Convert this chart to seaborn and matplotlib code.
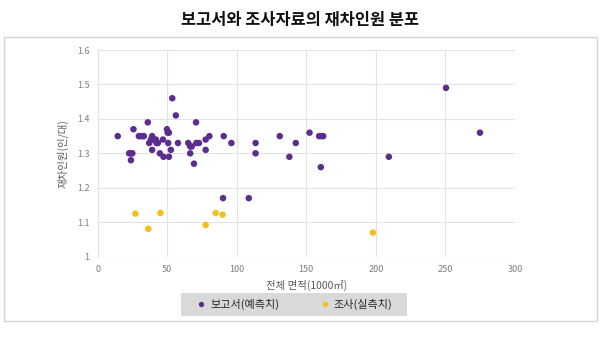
import matplotlib
matplotlib.use("Agg")
import matplotlib.pyplot as plt
from matplotlib.patches import Rectangle
from matplotlib.lines import Line2D
import seaborn as sns
import pandas as pd

# Reported (predicted) values: total area (1000 m²) vs. occupancy (persons/vehicle)
report_area = [14.4, 22.6, 23.8, 24.9, 23.9, 25.7, 29.6, 31.0, 32.2, 33.2,
               36.0, 37.0, 38.2, 39.1, 39.9, 39.1, 41.8, 42.3, 43.3, 44.7,
               46.9, 47.3, 49.8, 50.3, 51.2, 50.7, 51.2, 52.6, 53.6, 56.2,
               57.7, 65.1, 66.5, 67.6, 66.5, 69.2, 70.7, 70.9, 72.8, 77.6,
               77.6, 80.3, 90.1, 90.6, 96.1, 108.6, 113.5, 113.5, 130.9, 137.8,
               142.4, 152.3, 159.2, 160.9, 162.1, 160.4, 209.3, 250.4, 274.8]
report_occ = [1.35, 1.30, 1.30, 1.30, 1.28, 1.37, 1.35, 1.35, 1.35, 1.35,
              1.39, 1.33, 1.34, 1.35, 1.34, 1.31, 1.34, 1.33, 1.33, 1.30,
              1.34, 1.29, 1.37, 1.36, 1.36, 1.33, 1.29, 1.31, 1.46, 1.41,
              1.33, 1.33, 1.32, 1.32, 1.30, 1.27, 1.39, 1.33, 1.33, 1.31,
              1.34, 1.35, 1.17, 1.35, 1.33, 1.17, 1.33, 1.30, 1.35, 1.29,
              1.33, 1.36, 1.35, 1.35, 1.35, 1.26, 1.29, 1.49, 1.36]

# Survey (measured) values
survey_area = [27.1, 36.4, 45.1, 77.6, 84.8, 89.8, 197.8]
survey_occ = [1.125, 1.081, 1.127, 1.092, 1.127, 1.122, 1.07]

series_names = ["보고서(예측치)", "조사(실측치)"]
series_colors = ["#5c2d8e", "#f5bf1b"]

x_ticks = [0, 50, 100, 150, 200, 250, 300]
y_ticks = [1.0, 1.1, 1.2, 1.3, 1.4, 1.5, 1.6]
y_tick_labels = ["1", "1.1", "1.2", "1.3", "1.4", "1.5", "1.6"]

title = "보고서와 조사자료의 재차인원 분포"
x_label = "전체 면적(1000㎡)"
y_label = "재차인원(인/대)"

df = pd.DataFrame({
    "area": report_area + survey_area,
    "occ": report_occ + survey_occ,
    "series": [series_names[0]] * len(report_area) + [series_names[1]] * len(survey_area),
})

sns.set_theme(style="white")
plt.rcParams["font.family"] = ["Noto Sans CJK KR", "DejaVu Sans"]

W, H = 600, 339
fig = plt.figure(figsize=(W / 100, H / 100), dpi=100)
ax = fig.add_axes([97.7 / W, 1 - 256.7 / H, (515 - 97.7) / W, (256.7 - 50) / H])

sns.scatterplot(data=df, x="area", y="occ", hue="series", hue_order=series_names,
                palette=series_colors, s=22, linewidth=0, ax=ax, legend=False)

ax.set_xlim(0, 300)
ax.set_ylim(1.0, 1.6)
ax.set_xticks(x_ticks)
ax.set_xticklabels([str(t) for t in x_ticks])
ax.set_yticks(y_ticks)
ax.set_yticklabels(y_tick_labels)
ax.tick_params(axis="both", length=0, labelsize=6.5, colors="#7f7f7f", pad=6)
ax.grid(True, color="#e3e3e3", linewidth=0.8)
ax.set_axisbelow(True)
for side in ["top", "right", "bottom"]:
    ax.spines[side].set_visible(False)
ax.spines["left"].set_color("#e3e3e3")
ax.spines["left"].set_linewidth(0.8)

ax.set_xlabel(x_label, fontsize=7.5, color="#595959", labelpad=4)
ax.set_ylabel(y_label, fontsize=7.5, color="#595959", labelpad=6)

fig.text(0.5, 1 - 20 / H, title, ha="center", va="center",
         fontsize=11.8, fontweight="bold", color="#111111")

# outer frame around the chart
fig.patches.append(Rectangle((4 / W, 1 - 321 / H), 593 / W, (321 - 37) / H,
                             transform=fig.transFigure, fill=False,
                             edgecolor="#d4d4d4", linewidth=1.0))

# grey legend panel below the plot
fig.patches.append(Rectangle((181 / W, 1 - 316 / H), 226 / W, 23 / H,
                             transform=fig.transFigure, facecolor="#d9d9d9",
                             edgecolor="none", zorder=0))

handles = [Line2D([0], [0], marker="o", linestyle="", markersize=3.8,
                  markerfacecolor=c, markeredgewidth=0) for c in series_colors]
leg = fig.legend(handles, series_names, loc="center", ncol=2,
                 bbox_to_anchor=(294 / W, 1 - 304.5 / H), frameon=False,
                 fontsize=8, handletextpad=0.3, columnspacing=3.6,
                 handlelength=1.0, borderaxespad=0)
for t in leg.get_texts():
    t.set_color("#262626")

fig.savefig("out.png", dpi=100)
